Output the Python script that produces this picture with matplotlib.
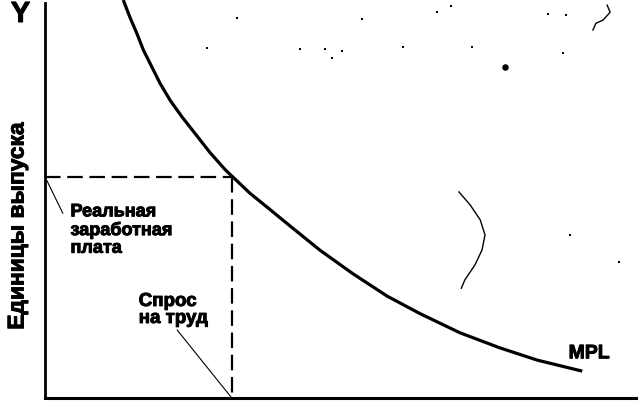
import matplotlib
matplotlib.use("Agg")
import matplotlib.pyplot as plt
import matplotlib.patheffects as pe

plt.rcParams['font.family'] = ['Liberation Sans', 'DejaVu Sans']

# MPL curve (labour on x, output units on y)
mpl_x = [13.2, 14.3, 15.5, 16.6, 18.0, 19.4, 21.1, 23.1, 25.3, 27.8, 30.4,
         34.6, 37.4, 41.3, 46.4, 51.9, 57.7, 63.2, 70.0, 76.7, 83.0, 90.6]
mpl_y = [100.8, 96.5, 92.3, 88.1, 83.9, 79.7, 75.4, 71.2, 67.0, 62.2, 57.8,
         51.8, 48.4, 43.6, 37.4, 31.5, 25.8, 21.4, 16.5, 12.7, 9.6, 6.8]

# equilibrium point (real wage / labour demand)
eq_x = 31.5
eq_y = 56.0

# leader lines of the labels
wage_leader_x = [0.34, 3.0]
wage_leader_y = [55.0, 46.8]
demand_leader_x = [22.3, eq_x]
demand_leader_y = [17.2, 0.0]

# scan artefacts visible in the picture
arc_x = [69.8, 71.7, 73.4, 74.2, 73.7, 72.5, 70.8, 70.2]
arc_y = [52.2, 48.9, 45.1, 41.3, 37.5, 33.7, 29.9, 27.8]
squig_x = [94.8, 95.3, 94.1, 92.9, 92.4]
squig_y = [99.5, 97.7, 95.7, 94.9, 93.2]
speck_x = [68.5, 87.9, 72.0, 53.5, 66.1, 84.8, 47.2, 48.4, 50.1, 60.4, 87.4, 32.4, 27.3, 43.0, 88.5, 96.8]
speck_y = [99.2, 97.0, 88.9, 95.9, 97.7, 97.2, 88.4, 86.1, 87.8, 88.9, 87.3, 96.2, 88.6, 88.4, 41.3, 34.4]
dot_x = [77.6]
dot_y = [83.8]

labels = {
    'y_sym': 'Y',
    'y_axis': 'Единицы выпуска',
    'wage': 'Реальная\nзаработная\nплата',
    'demand': 'Спрос\nна труд',
    'curve': 'MPL',
}

W, H = 638, 403
fig = plt.figure(figsize=(W / 100, H / 100), dpi=100)
fig.patch.set_facecolor('white')
ax = fig.add_axes([45 / W, 5 / H, 1 - 45 / W, 1 - 5 / H])
ax.set_xlim(0, 100)
ax.set_ylim(0, 100.8)

for s in ['top', 'right']:
    ax.spines[s].set_visible(False)
ax.spines['left'].set_bounds(0, 100)
ax.spines['left'].set_linewidth(2.0)
ax.spines['bottom'].set_linewidth(2.2)
ax.set_xticks([])
ax.set_yticks([])

ax.plot(mpl_x, mpl_y, color='black', lw=2.3, solid_capstyle='butt',
        solid_joinstyle='round', clip_on=False)
ax.plot([0, eq_x], [eq_y, eq_y], color='black', lw=1.6, dashes=(7, 3))
ax.plot([eq_x, eq_x], [eq_y, 0], color='black', lw=1.6, dashes=(7, 3))
ax.plot(wage_leader_x, wage_leader_y, color='black', lw=0.8)
ax.plot(demand_leader_x, demand_leader_y, color='black', lw=0.8)

ax.plot(arc_x, arc_y, color='black', lw=1.0)
ax.plot(squig_x, squig_y, color='black', lw=1.0)
ax.scatter(speck_x, speck_y, s=3, color='black', marker='s', lw=0)
ax.scatter(dot_x, dot_y, s=22, color='black', lw=0)

heavy = [pe.withStroke(linewidth=0.7, foreground='black')]

ax.text(4.3, 49.3, labels['wage'], ha='left', va='top', fontsize=13,
        fontweight='bold', linespacing=1.05, path_effects=heavy)
ax.text(15.8, 26.6, labels['demand'], ha='left', va='top', fontsize=13.5,
        fontweight='bold', linespacing=1.0, path_effects=heavy)
ax.text(88.3, 11.2, labels['curve'], ha='left', va='center', fontsize=14,
        fontweight='bold', path_effects=heavy)

fig.text(20.5 / W, 1 - 14 / H, labels['y_sym'], ha='center', va='center',
         fontsize=21, fontweight='bold', path_effects=heavy)
fig.text(17 / W, 1 - 226 / H, labels['y_axis'], ha='center', va='center',
         rotation=90, fontsize=16.4, fontweight='bold', path_effects=heavy)

fig.savefig('out.png', dpi=100, facecolor='white')
